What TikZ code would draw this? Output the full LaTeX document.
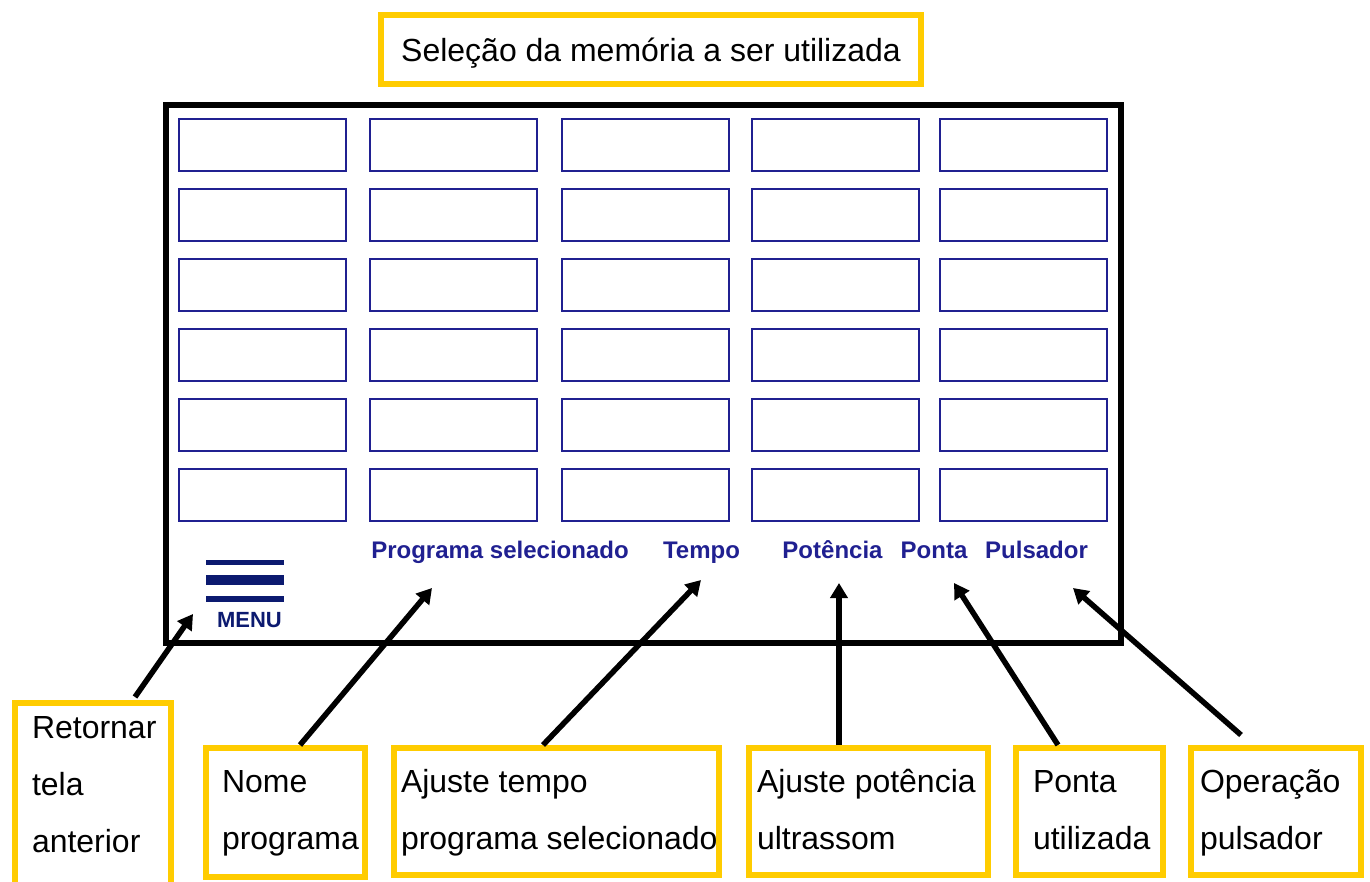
\documentclass[tikz,border=0pt]{standalone}
\usepackage{fontspec}
\setmainfont{Liberation Sans}
\usepackage{tikz}
\usetikzlibrary{arrows.meta,calc}
\definecolor{callyellow}{RGB}{255,204,0}
\definecolor{lcdblue}{RGB}{32,32,145}
\definecolor{menublue}{RGB}{12,26,112}

\begin{document}
\begin{tikzpicture}[x=0.2mm,y=-0.2mm,
    callout/.style={draw=callyellow,line width=1.2mm,anchor=north west,align=flush left,inner ysep=0pt,
      text height=8.8mm,text depth=16.6mm,font=\fontsize{18.2}{32.7}\selectfont},
    cell/.style={draw=lcdblue,line width=0.4mm,minimum width=33.4mm,minimum height=10.4mm,inner sep=0pt},
    lcdlabel/.style={text=lcdblue,anchor=base,font=\fontsize{13.66}{16}\selectfont\bfseries},
    menuline/.style={menublue,line width=#1},
    pointer/.style={line width=1.1mm,-{Triangle[length=3mm,width=3.4mm]}}]
    \useasboundingbox (0,0) rectangle (1370,882);

    \node[draw=callyellow,line width=1.2mm,minimum width=108mm,minimum height=13.8mm,text depth=0pt,
      font=\fontsize{18.2}{22}\selectfont] (title) at (651,49.5) {Seleção da memória a ser utilizada};

    \node[draw,line width=1.2mm,minimum width=191mm,minimum height=107.6mm] (screen) at (643.5,374) {};
    \foreach \y [count=\r] in {145,215,285,355,425,495}
      \foreach \x [count=\c] in {262.5,453,645,835,1023.5}
        \node[cell] (cell-\r-\c) at (\x,\y) {};

    \node[lcdlabel] (lprog) at (500,559) {Programa selecionado};
    \node[lcdlabel] (ltempo) at (701.5,559) {Tempo};
    \node[lcdlabel] (lpot) at (832.5,559) {Potência};
    \node[lcdlabel] (lponta) at (934,559) {Ponta};
    \node[lcdlabel] (lpuls) at (1036.5,559) {Pulsador};

    \draw[menuline=1mm] (206,562.5) -- (284,562.5);
    \draw[menuline=2mm] (206,580) -- (284,580);
    \draw[menuline=1.1mm] (206,599) -- (284,599);
    \node[text=menublue,anchor=base,font=\fontsize{12.5}{14}\selectfont\bfseries] (menu) at (249.5,627) {MENU};

    \node[callout,text width=24.4mm,inner xsep=3.4mm,text height=7mm,text depth=32.4mm] (bret) at (12,700) {Retornar\\tela\\anterior};
    \node[callout,text width=25.4mm,inner xsep=3.2mm,text depth=17mm] (bnome) at (203,745) {Nome\\programa};
    \node[callout,text width=62.2mm,inner xsep=1.4mm] (btempo) at (391,745) {Ajuste tempo\\\mbox{programa selecionado}};
    \node[callout,text width=44.6mm,inner xsep=1.6mm] (bpot) at (746,745) {Ajuste potência\\ultrassom};
    \node[callout,text width=22.6mm,inner xsep=3.4mm] (bponta) at (1013,745) {Ponta\\utilizada};
    \node[callout,text width=30.4mm,inner xsep=1.8mm] (bpuls) at (1188,745) {Operação\\pulsador};

    \coordinate (tipmenu) at (193,614);
    \coordinate (tipprog) at (432,588);
    \coordinate (tiptempo) at (701,580);
    \coordinate (tippot) at (839,583);
    \coordinate (tipponta) at (954,583);
    \coordinate (tippuls) at (1073,588);

    \draw[pointer] ($(bret.north west)+(123,-3)$) -- (tipmenu);
    \draw[pointer] ($(bnome.north west)+(97,0)$) -- (tipprog);
    \draw[pointer] ($(btempo.north west)+(152,0)$) -- (tiptempo);
    \draw[pointer] ($(bpot.north west)+(93,0)$) -- (tippot);
    \draw[pointer] ($(bponta.north west)+(45,0)$) -- (tipponta);
    \draw[pointer] ($(bpuls.north west)+(53,-10)$) -- (tippuls);
\end{tikzpicture}
\end{document}
